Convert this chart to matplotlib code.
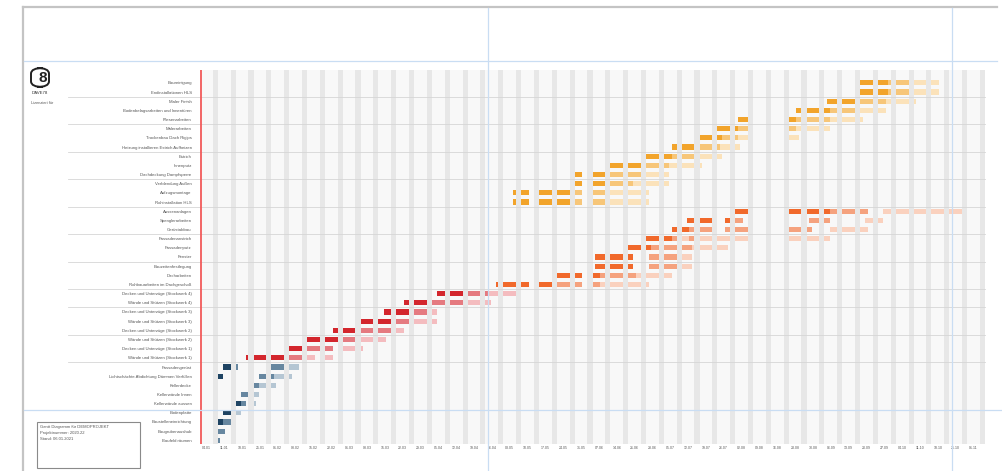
import matplotlib
matplotlib.use("Agg")
import matplotlib.pyplot as plt
from matplotlib.lines import Line2D
from matplotlib.patches import Rectangle, FancyBboxPatch

plt.rcParams['font.family'] = ['Liberation Sans', 'DejaVu Sans']

# ---------------- data ----------------
tasks = [
    "Baureinigung", "Endinstallationen HLS", "Maler Finish",
    "Bodenbelagsarbeiten und Innentüren", "Fliesenarbeiten", "Malerarbeiten",
    "Trockenbau Dach Rigips", "Heizung installieren Estrich Aufheizen", "Estrich",
    "Innenputz", "Dachdeckung Dampfsperre", "Verblendung Außen",
    "Aufzugsmontage", "Rohinstallation HLS",
    "Aussenanlagen", "Spenglerarbeiten", "Gerüstabbau",
    "Fassadenanstrich", "Fassadenputz", "Fenster",
    "Bauzeitenfestlegung", "Dacharbeiten", "Rohbauarbeiten im Dachgeschoß",
    "Decken und Unterzüge (Stockwerk 4)", "Wände und Stützen (Stockwerk 4)",
    "Decken und Unterzüge (Stockwerk 3)", "Wände und Stützen (Stockwerk 3)",
    "Decken und Unterzüge (Stockwerk 2)", "Wände und Stützen (Stockwerk 2)",
    "Decken und Unterzüge (Stockwerk 1)", "Wände und Stützen (Stockwerk 1)",
    "Fassadengerüst", "Lichtschächte Abdichtung Dämmen Verfüllen",
    "Kellerdecke", "Kellerwände Innen", "Kellerwände aussen",
    "Bodenplatte", "Baustelleneinrichtung", "Baugrubenaushub", "Baufeld räumen",
]

# week index (0 = week of 04.01) in which each task's code string begins
start_weeks = [37, 37, 35, 33, 30, 29, 28, 26, 25, 23, 21, 21, 17, 17,
               30, 27, 26, 25, 24, 22, 22, 20, 16,
               13, 11, 10, 9, 7, 6, 5, 2,
               1, 1, 3, 2, 2, 1, 1, 1, 1]

# per weekday status (Mon..Fri per week): D = planned, M = medium, L = light, . = none
day_codes = [
    "DDDDD DDDDM MMMMM LLLLL LLL",
    "DDDDD DDDDM MMMMM LLLLL LLL",
    ".DDDD DDDDD MMMMM MMMLL LLLLL L",
    "...DD DDDDD DDMMM MMMMM LLLLL LLL",
    ".DDDD ..... ..... DDDMM MMMMM MMLLL LLLLL L",
    "DDDDD DMMMM ..... ..... MMMLL LLLLL LL",
    "DDDDD DDMMM MLLLL ..... ..... LLLL",
    "...DD DDDDD MMMMM MLLLL LL",
    "DDDDD DDDMM MMMMM LLLLL LL",
    "DDDDD DDDDD MMMMM MMLLL LLLLL L",
    "DDD.. DDDDD MMMMM MMMMM LLLLL LL",
    "DDD.. DDDDD MMMMM MMLLL LLLLL LL",
    "....D DDD.. DDDDD DDDDD MMM.. MMMMM LLLLL LLLLL L",
    "....D DDD.. DDDDD DDDDD MMM.. MMMMM LLLLL LLLLL L",
    "DDDDD ..... ..... DDDDD DDDDD DDMMM MMMMM MMM.. ..LLL LLLLL LLLLL LLLLL LLLLL",
    "..DDD DDDDD ...DD MMM.. ..... ..... ..... .MMMM MM... ..... ..LLL LL",
    "...DD DDDMM MMMMM ...MM MMMMM ..... ..... MMMMM MM... ..LLL LLLLL LLL",
    "DDDDD DDDMM LLLMM LLLLL LLLLL LLLLL ..... ..... LLLLL LLLLL LL",
    "DDDDD DDMMM MMMMM MMMML LLLLL LLLL",
    ".DDDD DDDDD DD... .MMMM MMMMM LLLL",
    ".DDDD DDDDD DD... .MMMM MMMMM LLLL",
    "DDDDD DDD.. DDDMM MMMMM MMMLL LLLLL LLL",
    "....D DDDDD DDD.. DDDDD MMMMM MMM.. MMMLL LLLLL LLLLL L",
    "..DDD DDDDD MMMMM MLLLL LLLLL",
    "...DD DDDDD MMMMM MMMMM LLLLL LL",
    "..DDD DDDDD MMMMM LL",
    "DDDDD DDDDD MMMMM LLLLL LL",
    "...DD DDDDD MMMMM MMMMM LLL",
    "DDDDD DDDDD MMMMM LLLLL LLL",
    "DDDDD MMMMM MMM.. LLLLL L",
    "....D DDDDD DDDDD MMMMM LLL.. LLL",
    "..DDD M.... ..... MMMMM LLLL",
    "DD... ..... ..MMM MLLLL L",
    "MMLLL LL",
    "..MMM LL",
    "DDMM. L",
    "..DDD LL",
    "DDMMM",
    "MMM",
    "M",
]

# colour group of each task (0 yellow, 1 orange, 2 red, 3 blue)
task_group = [0] * 14 + [1] * 9 + [2] * 8 + [3] * 9

week_labels = ["04.01", "11.01", "18.01", "25.01", "01.02", "08.02", "15.02", "22.02",
               "01.03", "08.03", "15.03", "22.03", "29.03", "05.04", "12.04", "19.04",
               "26.04", "03.05", "10.05", "17.05", "24.05", "31.05", "07.06", "14.06",
               "21.06", "28.06", "05.07", "12.07", "19.07", "26.07", "02.08", "09.08",
               "16.08", "23.08", "30.08", "06.09", "13.09", "20.09", "27.09", "04.10",
               "11.10", "18.10", "25.10", "01.11"]

separator_after = [1, 4, 7, 10, 13, 16, 19, 22, 24, 27, 30]

palettes = [
    {"D": "#f2a42b", "M": "#f7c679", "L": "#fbe2ba"},
    {"D": "#f1692b", "M": "#f5a27e", "L": "#fad1be"},
    {"D": "#d3262d", "M": "#e57a80", "L": "#f4bcbf"},
    {"D": "#1f4463", "M": "#6787a0", "L": "#b5c6d3"},
]

# ---------------- figure ----------------
W, H = 1003, 471
fig = plt.figure(figsize=(W / 100, H / 100), dpi=100)
fig.patch.set_facecolor("white")


def fx(px):
    return px / W


def fy(py):
    return 1 - py / H


ax_left, ax_right, ax_top, ax_bot = 200, 985, 70, 444
ax = fig.add_axes([fx(ax_left), fy(ax_bot), fx(ax_right - ax_left), (ax_bot - ax_top) / H])
n_weeks = len(week_labels)
ax.set_xlim(0, 7 * n_weeks)
ax.set_ylim(len(tasks) - 0.6, -1.4)
ax.set_facecolor("#f8f8f8")
for s in ax.spines.values():
    s.set_visible(False)

# weekend stripes
for w in range(n_weeks):
    ax.axvspan(7 * w + 5, 7 * w + 7, color="#e7e7e7", lw=0, zorder=0)

# separators (extend into label area)
x_from = -(ax_left - 68) / ((ax_right - ax_left) / (7 * n_weeks))
for r in separator_after:
    ax.plot([x_from, 7 * n_weeks], [r + 0.5, r + 0.5], color="#d6d6d6", lw=0.6,
            clip_on=False, zorder=1)

# bars
for row, (wk, codes) in enumerate(zip(start_weeks, day_codes)):
    pal = palettes[task_group[row]]
    for i, wcode in enumerate(codes.split()):
        w = wk + i
        d = 0
        while d < len(wcode):
            c = wcode[d]
            if c == ".":
                d += 1
                continue
            e = d
            while e < len(wcode) and wcode[e] == c:
                e += 1
            ax.barh(row, e - d, left=7 * w + d, height=0.56, color=pal[c], lw=0, zorder=3)
            d = e

# red start line
ax.axvline(0.35, color="#f25a5a", lw=1.3, zorder=4)

# axis labels
ax.set_yticks(range(len(tasks)))
ax.set_yticklabels(tasks, fontsize=3.1, color="#555555")
ax.set_xticks([7 * w + 2.5 for w in range(n_weeks)])
ax.set_xticklabels(week_labels, fontsize=2.5, color="#555555")
ax.tick_params(axis="y", length=0, pad=6)
ax.tick_params(axis="x", length=0, pad=1.5)

# ---------------- frame / guides ----------------
gray = "#c4c4c4"
fig.add_artist(Line2D([fx(23), fx(997)], [fy(7), fy(7)], color=gray, lw=1.6))
fig.add_artist(Line2D([fx(23), fx(23)], [fy(7), fy(471)], color=gray, lw=1.6))
blue = "#c9ddf3"
fig.add_artist(Line2D([fx(24), fx(997)], [fy(61), fy(61)], color=blue, lw=0.9))
fig.add_artist(Line2D([fx(24), fx(1003)], [fy(410), fy(410)], color=blue, lw=0.9))
fig.add_artist(Line2D([fx(488), fx(488)], [fy(8), fy(471)], color=blue, lw=0.9))
fig.add_artist(Line2D([fx(952), fx(952)], [fy(8), fy(471)], color=blue, lw=0.9))

# logo
logo = FancyBboxPatch((fx(31), fy(87)), fx(18), (87 - 68) / H,
                      boxstyle="round,pad=0,rounding_size=0.012",
                      transform=fig.transFigure, fill=False, ec="#222222", lw=1.4)
fig.add_artist(logo)
fig.text(fx(43), fy(78), "8", fontsize=11, color="#222222", ha="center", va="center",
         fontweight="bold")
fig.text(fx(40), fy(93), "DAVE78", fontsize=3.2, color="#333333", ha="center", va="center")
fig.text(fx(42), fy(103), "Lizenziert für", fontsize=2.8, color="#555555",
         ha="center", va="center")

# info box
box = Rectangle((fx(37), fy(468)), fx(103), (468 - 422) / H, transform=fig.transFigure,
                fill=False, ec="#8a8a8a", lw=0.8)
fig.add_artist(box)
info_lines = ["Gantt Diagramm für DEMOPROJEKT", "Projektnummer: 2020.22", "Stand: 06.01.2021"]
for k, t in enumerate(info_lines):
    fig.text(fx(40), fy(427 + 6 * k), t, fontsize=3.0, color="#555555", ha="left", va="center")

fig.savefig("out.png", dpi=100, facecolor="white")
